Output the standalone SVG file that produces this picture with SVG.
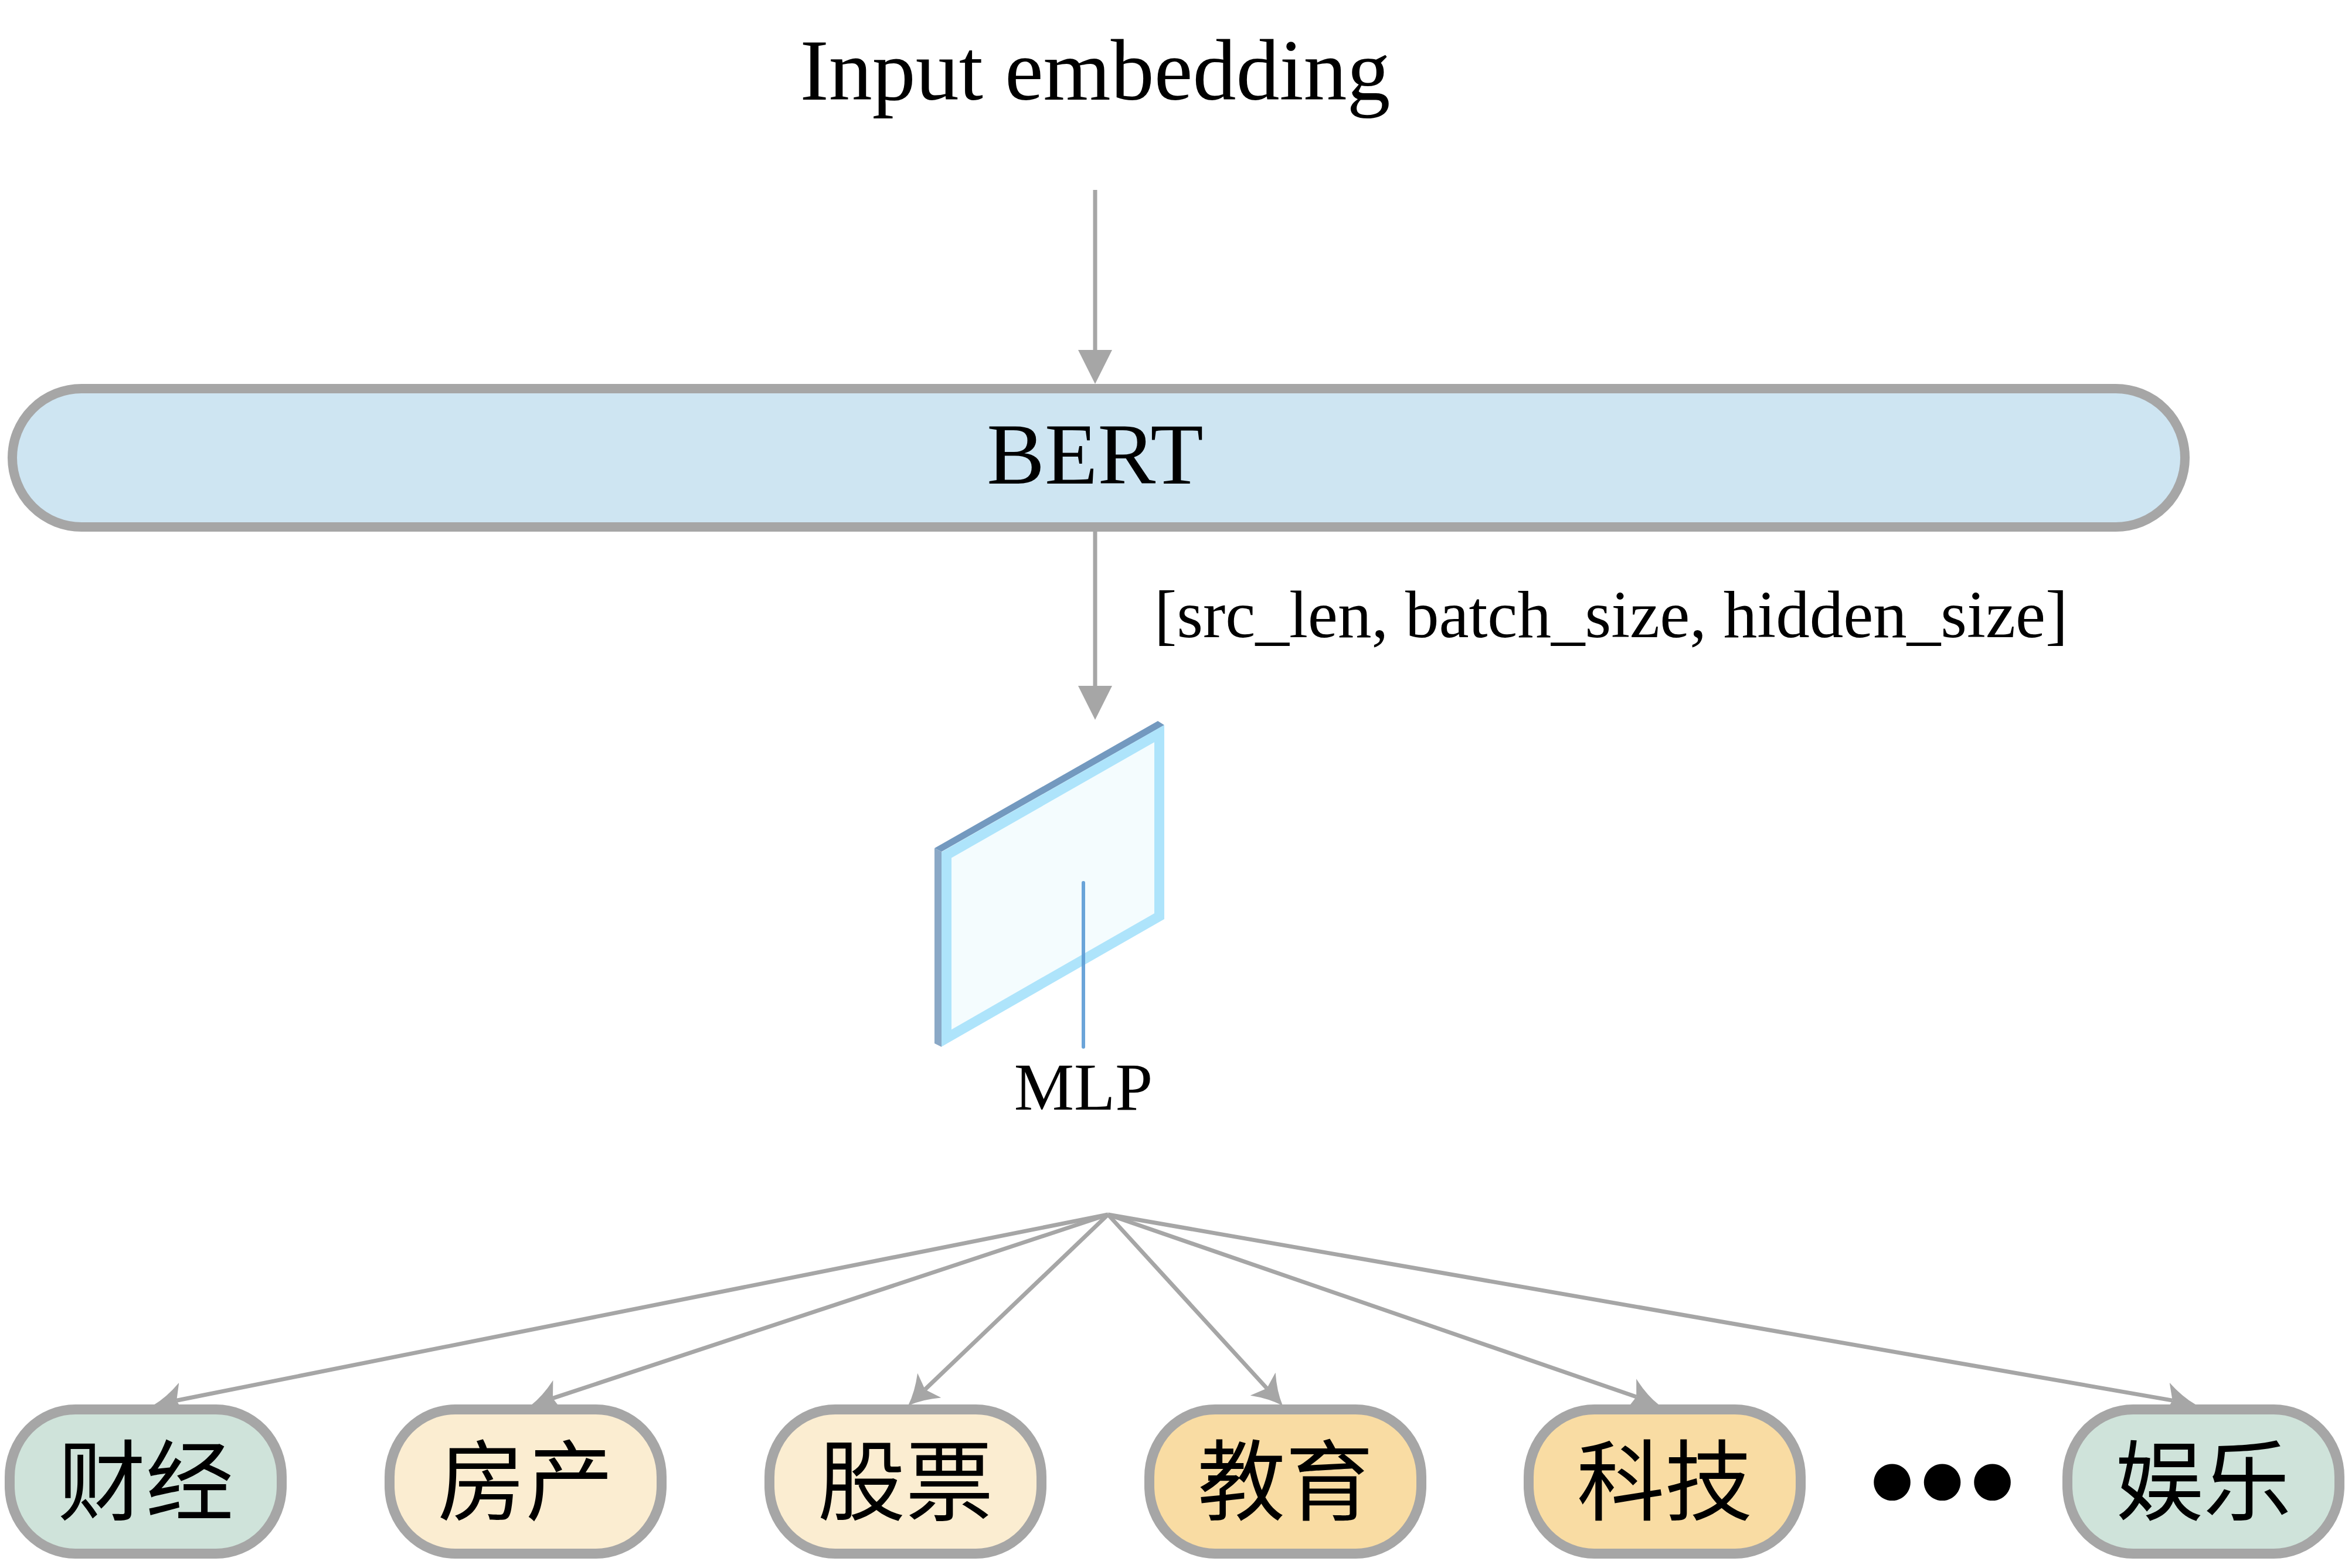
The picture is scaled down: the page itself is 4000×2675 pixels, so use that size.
<svg xmlns="http://www.w3.org/2000/svg" width="4000" height="2675" viewBox="0 0 4000 2675">
<style>
.t{font-family:"Liberation Serif","Times New Roman",serif;fill:#000}
.cjk{font-family:"Noto Sans CJK SC",sans-serif;font-size:150px;fill:#000;text-anchor:middle}
.conn{stroke:#A6A6A6;stroke-width:7;fill:none}
.nb{stroke:#A6A6A6;stroke-width:17}
.g{fill:#CFE3DA}.c{fill:#FBEDD1}.o{fill:#F9DCA3}
</style>
<defs>
<marker id="blk" viewBox="0 0 58 58" refX="0" refY="29" markerWidth="58" markerHeight="58" markerUnits="userSpaceOnUse" orient="auto">
<path d="M0,0 L58,29 L0,58 Z" fill="#A6A6A6"/>
</marker>
<marker id="cls" viewBox="0 0 50 58" refX="10" refY="29" markerWidth="50" markerHeight="58" markerUnits="userSpaceOnUse" orient="auto">
<path d="M0,0 Q25,20 50,29 Q25,38 0,58 L10,29 Z" fill="#A6A6A6"/>
</marker>
</defs>
<rect width="4000" height="2675" fill="#FFFFFF"/>
<g id="input">
<text class="t" x="1868" y="170" font-size="148" text-anchor="middle">Input embedding</text>
</g>
<g id="bert">
<rect x="21" y="663" width="3706" height="236" rx="118" ry="118" fill="#CEE5F2" stroke="#A6A6A6" stroke-width="16"/>
<text class="t" x="1868" y="825" font-size="148" text-anchor="middle">BERT</text>
</g>
<g id="shape-label">
<text class="t" x="1969" y="1087" font-size="115">[src_len, batch_size, hidden_size]</text>
</g>
<g id="mlp">
<polygon points="1594,1447 1975,1230 1986,1237 1606,1453" fill="#7399BF"/>
<polygon points="1594,1447 1606,1453 1606,1786 1594,1780" fill="#8AA8C6"/>
<polygon points="1614.5,1458.5 1977.5,1251.5 1977.5,1563 1614.5,1771" fill="#F4FCFE" stroke="#AEE4FB" stroke-width="17"/>
<line x1="1848" y1="1506" x2="1848" y2="1786" stroke="#5B9BD5" stroke-width="6" stroke-linecap="round" opacity="0.9"/>
<text class="t" x="1848" y="1893" font-size="115" text-anchor="middle">MLP</text>
</g>
<g id="connectors">
<line class="conn" x1="1868" y1="324" x2="1868" y2="597" marker-end="url(#blk)"/>
<line class="conn" x1="1868" y1="907" x2="1868" y2="1170" marker-end="url(#blk)"/>
<line class="conn" x1="1890" y1="2072" x2="301.2" y2="2389.2" marker-end="url(#cls)"/>
<line class="conn" x1="1890" y1="2072" x2="943.0" y2="2385.4" marker-end="url(#cls)"/>
<line class="conn" x1="1890" y1="2072" x2="1577.9" y2="2370.4" marker-end="url(#cls)"/>
<line class="conn" x1="1890" y1="2072" x2="2161.0" y2="2368.5" marker-end="url(#cls)"/>
<line class="conn" x1="1890" y1="2072" x2="2791.2" y2="2383.0" marker-end="url(#cls)"/>
<line class="conn" x1="1890" y1="2072" x2="3705.6" y2="2389.1" marker-end="url(#cls)"/>
</g>
<g id="node-caijing">
<rect class="nb g" x="16.5" y="2404.5" width="464" height="246" rx="112" ry="115"/>
<text class="cjk" x="248.5" y="2582">财经</text>
</g>
<g id="node-fangchan">
<rect class="nb c" x="664.5" y="2404.5" width="464" height="246" rx="112" ry="115"/>
<text class="cjk" x="896.5" y="2582">房产</text>
</g>
<g id="node-gupiao">
<rect class="nb c" x="1312.5" y="2404.5" width="464" height="246" rx="112" ry="115"/>
<text class="cjk" x="1544.5" y="2582">股票</text>
</g>
<g id="node-jiaoyu">
<rect class="nb o" x="1960.5" y="2404.5" width="464" height="246" rx="112" ry="115"/>
<text class="cjk" x="2192.5" y="2582">教育</text>
</g>
<g id="node-keji">
<rect class="nb o" x="2607.5" y="2404.5" width="464" height="246" rx="112" ry="115"/>
<text class="cjk" x="2839.5" y="2582">科技</text>
</g>
<g id="ellipsis">
<text x="3320" y="2550" font-family="DejaVu Sans" font-size="82" letter-spacing="14" text-anchor="middle">●●●</text>
</g>
<g id="node-yule">
<rect class="nb g" x="3526.5" y="2404.5" width="464" height="246" rx="112" ry="115"/>
<text class="cjk" x="3758.5" y="2582">娱乐</text>
</g>
</svg>
